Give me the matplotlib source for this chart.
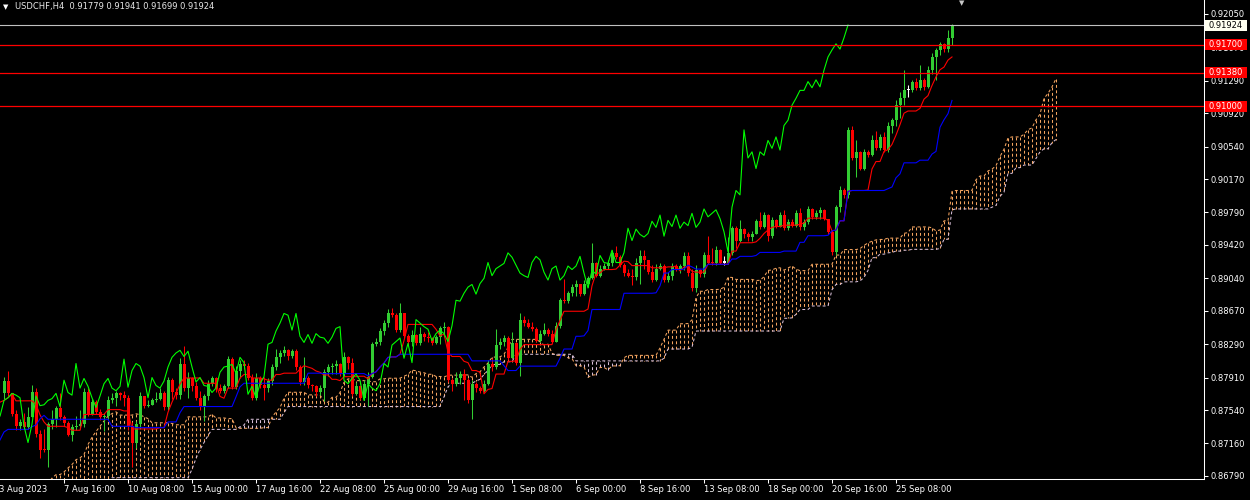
import numpy as np
import pandas as pd
import matplotlib.pyplot as plt
from matplotlib.patches import Rectangle
from matplotlib.transforms import blended_transform_factory

plt.rcParams['font.family'] = ['DejaVu Sans']

symbol = 'USDCHF,H4'
first_open = 0.8773

# bars left of the visible window (only high/low are needed, for the ichimoku warm-up;
# estimated from the lower-left cloud and the first kijun level)
hist_high = [
    0.8640, 0.8625, 0.8610, 0.8600, 0.8598, 0.8615, 0.8635, 0.8655, 0.8668, 0.8685,
    0.8700, 0.8712, 0.8718, 0.8715, 0.8705, 0.8700, 0.8698, 0.8706, 0.8714, 0.8722,
    0.8730, 0.8742, 0.8750, 0.8746, 0.8756, 0.8762, 0.8768, 0.8772, 0.8770, 0.8776,
    0.8784, 0.8788, 0.8782, 0.8786, 0.8784,
]
hist_low = [
    0.8610, 0.8595, 0.8580, 0.8566, 0.8556, 0.8575, 0.8600, 0.8620, 0.8636, 0.8652,
    0.8668, 0.8680, 0.8684, 0.8678, 0.8670, 0.8668, 0.8666, 0.8672, 0.8676, 0.8690,
    0.8698, 0.8706, 0.8718, 0.8716, 0.8722, 0.8730, 0.8740, 0.8742, 0.8738, 0.8746,
    0.8750, 0.8756, 0.8752, 0.8758, 0.8762,
]

close = [
    0.8787, 0.8773, 0.8750, 0.8736, 0.8740, 0.8735, 0.8746, 0.8775, 0.8727, 0.8709,
    0.8708, 0.8738, 0.8744, 0.8756, 0.8746, 0.8739, 0.8726, 0.8735, 0.8736, 0.8738,
    0.8775, 0.8750, 0.8763, 0.8752, 0.8746, 0.8747, 0.8765, 0.8768, 0.8773, 0.8771,
    0.8768, 0.8736, 0.8717, 0.8738, 0.8770, 0.8759, 0.8760, 0.8765, 0.8767, 0.8773,
    0.8758, 0.8788, 0.8774, 0.8771, 0.8807, 0.8779, 0.8790, 0.8781, 0.8768, 0.8757,
    0.8770, 0.8784, 0.8790, 0.8779, 0.8776, 0.8781, 0.8812, 0.8780, 0.8799, 0.8807,
    0.8804, 0.8791, 0.8768, 0.8791, 0.8782, 0.8779, 0.8787, 0.8803, 0.8814, 0.8819,
    0.8822, 0.8815, 0.8821, 0.8803, 0.8786, 0.8791, 0.8782, 0.8781, 0.8774, 0.8779,
    0.8797, 0.8803, 0.8804, 0.8806, 0.8796, 0.8814, 0.8808, 0.8772, 0.8781, 0.8768,
    0.8784, 0.8792, 0.8829, 0.8831, 0.8844, 0.8853, 0.8864, 0.8862, 0.8845, 0.8864,
    0.8838, 0.8831, 0.8840, 0.8830, 0.8841, 0.8837, 0.8836, 0.8830, 0.8837, 0.8847,
    0.8849, 0.8788, 0.8784, 0.8790, 0.8795, 0.8788, 0.8765, 0.8784, 0.8779, 0.8776,
    0.8784, 0.8807, 0.8803, 0.8828, 0.8832, 0.8836, 0.8813, 0.8830, 0.8808, 0.8857,
    0.8853, 0.8849, 0.8846, 0.8833, 0.8841, 0.8845, 0.8841, 0.8832, 0.8850, 0.8879,
    0.8878, 0.8887, 0.8894, 0.8897, 0.8886, 0.8898, 0.8904, 0.8922, 0.8907, 0.8915,
    0.8918, 0.8921, 0.8933, 0.8928, 0.8919, 0.8910, 0.8907, 0.8905, 0.8922, 0.8929,
    0.8925, 0.8911, 0.8902, 0.8915, 0.8918, 0.8902, 0.8907, 0.8918, 0.8914, 0.8918,
    0.8929, 0.8910, 0.8893, 0.8913, 0.8909, 0.8930, 0.8922, 0.8921, 0.8936, 0.8922,
    0.8922, 0.8933, 0.8961, 0.8947, 0.8960, 0.8954, 0.8951, 0.8955, 0.8969, 0.8962,
    0.8976, 0.8952, 0.8970, 0.8963, 0.8976, 0.8961, 0.8968, 0.8964, 0.8978, 0.8962,
    0.8968, 0.8983, 0.8974, 0.8978, 0.8982, 0.8972, 0.8957, 0.8934, 0.8985, 0.9004,
    0.8999, 0.9073, 0.9041, 0.9048, 0.9029, 0.9048, 0.9044, 0.9061, 0.9052, 0.9065,
    0.9050, 0.9078, 0.9084, 0.9101, 0.9109, 0.9118, 0.9118, 0.9128, 0.9121, 0.9130,
    0.9122, 0.9141, 0.9156, 0.9164, 0.9171, 0.9165, 0.91779, 0.91924,
]

high = [
    0.8792, 0.8798, 0.8773, 0.8754, 0.8744, 0.8751, 0.8757, 0.8782, 0.8779, 0.8731,
    0.8733, 0.8740, 0.8754, 0.8759, 0.8773, 0.8748, 0.8741, 0.8738, 0.8747, 0.8754,
    0.8779, 0.8779, 0.8767, 0.8765, 0.8755, 0.8751, 0.8770, 0.8773, 0.8776, 0.8775,
    0.8776, 0.8771, 0.8740, 0.8742, 0.8774, 0.8770, 0.8766, 0.8768, 0.8774, 0.8779,
    0.8776, 0.8792, 0.8790, 0.8779, 0.8813, 0.8827, 0.8797, 0.8792, 0.8786, 0.8776,
    0.8772, 0.8788, 0.8793, 0.8792, 0.8784, 0.8784, 0.8816, 0.8814, 0.8804, 0.8811,
    0.8811, 0.8808, 0.8795, 0.8796, 0.8793, 0.8792, 0.8790, 0.8807, 0.8824, 0.8822,
    0.8827, 0.8824, 0.8823, 0.8824, 0.8805, 0.8814, 0.8793, 0.8784, 0.8783, 0.8783,
    0.8801, 0.8806, 0.8808, 0.8811, 0.8808, 0.8820, 0.8815, 0.8813, 0.8786, 0.8782,
    0.8788, 0.8797, 0.8832, 0.8836, 0.8847, 0.8856, 0.8869, 0.8870, 0.8864, 0.8876,
    0.8865, 0.8841, 0.8845, 0.8841, 0.8849, 0.8843, 0.8843, 0.8837, 0.8839, 0.8850,
    0.8854, 0.8850, 0.8791, 0.8797, 0.8799, 0.8801, 0.8791, 0.8788, 0.8786, 0.8781,
    0.8788, 0.8811, 0.8813, 0.8846, 0.8836, 0.8839, 0.8838, 0.8843, 0.8832, 0.8864,
    0.8861, 0.8858, 0.8854, 0.8849, 0.8845, 0.8853, 0.8847, 0.8845, 0.8854, 0.8882,
    0.8903, 0.8890, 0.8898, 0.8902, 0.8898, 0.8902, 0.8907, 0.8944, 0.8923, 0.8919,
    0.8921, 0.8925, 0.8936, 0.8941, 0.8931, 0.8921, 0.8915, 0.8915, 0.8927, 0.8936,
    0.8936, 0.8925, 0.8919, 0.8920, 0.8922, 0.8920, 0.8911, 0.8922, 0.8920, 0.8920,
    0.8934, 0.8934, 0.8915, 0.8919, 0.8915, 0.8934, 0.8952, 0.8939, 0.8941, 0.8937,
    0.8929, 0.8951, 0.8964, 0.8964, 0.8970, 0.8961, 0.8957, 0.8958, 0.8972, 0.8979,
    0.8979, 0.8977, 0.8974, 0.8971, 0.8979, 0.8982, 0.8972, 0.8971, 0.8982, 0.8984,
    0.8972, 0.8986, 0.8984, 0.8982, 0.8985, 0.8983, 0.8972, 0.8959, 0.8988, 0.9009,
    0.9007, 0.9076, 0.9078, 0.9061, 0.9049, 0.9051, 0.9050, 0.9067, 0.9072, 0.9068,
    0.9071, 0.9082, 0.9086, 0.9107, 0.9116, 0.9141, 0.9124, 0.9130, 0.9132, 0.9147,
    0.9132, 0.9146, 0.9161, 0.9166, 0.9173, 0.9172, 0.9187, 0.91941,
]

low = [
    0.8767, 0.8770, 0.8747, 0.8731, 0.8731, 0.8733, 0.8732, 0.8746, 0.8723, 0.8699,
    0.8706, 0.8689, 0.8733, 0.8735, 0.8743, 0.8736, 0.8724, 0.8719, 0.8731, 0.8733,
    0.8735, 0.8747, 0.8748, 0.8749, 0.8743, 0.8730, 0.8744, 0.8762, 0.8759, 0.8765,
    0.8759, 0.8731, 0.8689, 0.8711, 0.8734, 0.8756, 0.8758, 0.8760, 0.8763, 0.8765,
    0.8754, 0.8754, 0.8767, 0.8767, 0.8767, 0.8776, 0.8768, 0.8776, 0.8765, 0.8754,
    0.8742, 0.8765, 0.8781, 0.8774, 0.8773, 0.8773, 0.8779, 0.8778, 0.8778, 0.8791,
    0.8801, 0.8788, 0.8765, 0.8765, 0.8779, 0.8765, 0.8774, 0.8783, 0.8800, 0.8808,
    0.8815, 0.8811, 0.8813, 0.8800, 0.8782, 0.8783, 0.8779, 0.8776, 0.8770, 0.8771,
    0.8764, 0.8793, 0.8795, 0.8795, 0.8793, 0.8793, 0.8801, 0.8770, 0.8771, 0.8765,
    0.8765, 0.8759, 0.8790, 0.8827, 0.8828, 0.8839, 0.8849, 0.8860, 0.8843, 0.8843,
    0.8836, 0.8828, 0.8827, 0.8828, 0.8828, 0.8833, 0.8831, 0.8828, 0.8829, 0.8829,
    0.8838, 0.8786, 0.8776, 0.8781, 0.8784, 0.8765, 0.8762, 0.8744, 0.8774, 0.8773,
    0.8774, 0.8782, 0.8799, 0.8801, 0.8824, 0.8827, 0.8811, 0.8813, 0.8805, 0.8793,
    0.8850, 0.8847, 0.8844, 0.8831, 0.8831, 0.8839, 0.8838, 0.8830, 0.8831, 0.8847,
    0.8876, 0.8876, 0.8884, 0.8884, 0.8884, 0.8885, 0.8894, 0.8903, 0.8905, 0.8905,
    0.8913, 0.8915, 0.8918, 0.8926, 0.8917, 0.8907, 0.8905, 0.8896, 0.8902, 0.8898,
    0.8915, 0.8909, 0.8900, 0.8901, 0.8913, 0.8900, 0.8900, 0.8902, 0.8912, 0.8910,
    0.8913, 0.8907, 0.8890, 0.8888, 0.8906, 0.8906, 0.8920, 0.8919, 0.8919, 0.8920,
    0.8919, 0.8920, 0.8931, 0.8939, 0.8945, 0.8950, 0.8947, 0.8947, 0.8954, 0.8960,
    0.8961, 0.8947, 0.8950, 0.8961, 0.8962, 0.8959, 0.8959, 0.8962, 0.8963, 0.8959,
    0.8959, 0.8966, 0.8971, 0.8971, 0.8972, 0.8970, 0.8954, 0.8930, 0.8931, 0.8979,
    0.8996, 0.8996, 0.9039, 0.9019, 0.9027, 0.9027, 0.9042, 0.9043, 0.9050, 0.9050,
    0.9048, 0.9048, 0.9069, 0.9077, 0.9086, 0.9101, 0.9110, 0.9116, 0.9118, 0.9118,
    0.9118, 0.9121, 0.9137, 0.9130, 0.9158, 0.9162, 0.9162, 0.91699,
]

first_label = '3 Aug 2023'
date_labels = ['7 Aug 16:00', '10 Aug 08:00', '15 Aug 00:00', '17 Aug 16:00',
               '22 Aug 08:00', '25 Aug 00:00', '29 Aug 16:00', '1 Sep 08:00',
               '6 Sep 00:00', '8 Sep 16:00', '13 Sep 08:00', '18 Sep 00:00',
               '20 Sep 16:00', '25 Sep 08:00']
label_bars = [15, 31, 47, 63, 79, 95, 111, 127, 143, 159, 175, 191, 207, 223]

price_ticks = [0.92050, 0.91670, 0.91290, 0.90920, 0.90540, 0.90170, 0.89790, 0.89420,
               0.89040, 0.88670, 0.88290, 0.87910, 0.87540, 0.87160, 0.86790]
level_lines = [0.91700, 0.91380, 0.91000]
bid_price = 0.91924

UP = '#32cd32'
DOWN = '#ff0000'
SANDY = '#f4a460'
THISTLE = '#d8bfd8'


def ichimoku(hi, lo, tenkan_n=9, kijun_n=26, senkou_n=52):
    hi = pd.Series(hi)
    lo = pd.Series(lo)

    def mid(n):
        return (hi.rolling(n, min_periods=1).max() + lo.rolling(n, min_periods=1).min()) / 2

    tenkan = mid(tenkan_n)
    kijun = mid(kijun_n)
    span_a = (tenkan + kijun) / 2
    span_b = mid(senkou_n)
    return tenkan.values, kijun.values, span_a.values, span_b.values


c = np.array(close)
h = np.array(high)
l = np.array(low)
o = np.concatenate([[first_open], c[:-1]])
n = len(c)
idx = np.arange(n)
shift = 26

# indicator input includes the warm-up bars before the first visible bar
n_hist = len(hist_high)
all_idx = np.arange(-n_hist, n)
tenkan, kijun, span_a, span_b = ichimoku(np.concatenate([hist_high, h]),
                                         np.concatenate([hist_low, l]))

fig = plt.figure(figsize=(12.5, 5), dpi=100, facecolor='black')
ax = fig.add_axes([0, 21 / 500, 1204 / 1250, 479 / 500])
ax.set_facecolor('black')
ax.set_xlim(-1, 300)
ax.set_ylim(0.86755, 0.92209)

# kumo: dotted histogram between the two senkou spans
dots = (0, (2.8, 2.4))
cx = all_idx + shift
cloud_cols = np.where(span_a >= span_b, SANDY, THISTLE)
ax.vlines(cx, span_a, span_b, colors=cloud_cols, linestyles=[dots], lw=0.75, zorder=1)
ax.plot(cx, span_a, color=SANDY, lw=0.75, ls=dots, zorder=1)
ax.plot(cx, span_b, color=THISTLE, lw=0.75, ls=dots, zorder=1)

# candles
doji = np.isclose(c, o, atol=1e-7)
cols = np.where(doji, 'white', np.where(c > o, UP, DOWN))
ax.vlines(idx, l, h, colors=cols, lw=0.75, zorder=3)
body_lo = np.minimum(o, c)
body_h = np.maximum(np.abs(c - o), 0.00012)
ax.bar(idx, body_h, bottom=body_lo, width=0.75, color=cols, linewidth=0, zorder=3)

# tenkan, kijun, chikou
ax.plot(all_idx, tenkan, color='#ff0000', lw=0.8, zorder=4)
ax.plot(all_idx, kijun, color='#0000ff', lw=0.8, zorder=4)
ax.plot(idx - shift, c, color='#00ff00', lw=0.8, zorder=4)

# horizontal levels
ax.axhline(bid_price, color='#c0c0c0', lw=0.8, zorder=5)
for p in level_lines:
    ax.axhline(p, color='#ff0000', lw=0.9, zorder=5)

# axes styling
for side in ['top', 'left']:
    ax.spines[side].set_visible(False)
for side in ['right', 'bottom']:
    ax.spines[side].set_color('white')
    ax.spines[side].set_linewidth(0.75)

ax.yaxis.tick_right()
ax.set_yticks(price_ticks)
ax.set_yticklabels([f'{p:.5f}' for p in price_ticks])
ax.tick_params(axis='y', colors='white', labelsize=6, length=3, width=0.75, pad=1.5)

ax.set_xticks(label_bars)
ax.set_xticklabels(date_labels, ha='left')
ax.tick_params(axis='x', colors='white', labelsize=6, length=3, width=0.75, pad=1.5)
fig.text(-1 / 1250, (500 - 485.5) / 500, first_label, color='white', fontsize=6, va='top', ha='left')

# price labels on the right scale
trans = blended_transform_factory(fig.transFigure, ax.transData)
box_h = 11 * (0.92209 - 0.86755) / 479
for p in level_lines:
    fig.add_artist(Rectangle((1205 / 1250, p - box_h / 2), 42 / 1250, box_h, transform=trans,
                             facecolor='#ff0000', edgecolor='none', zorder=6))
    fig.text(1226 / 1250, p, f'{p:.5f}', transform=trans, color='white', fontsize=6,
             ha='center', va='center', zorder=7)
fig.add_artist(Rectangle((1205 / 1250, bid_price - box_h / 2), 42 / 1250, box_h, transform=trans,
                         facecolor='#fffff0', edgecolor='none', zorder=6))
fig.text(1226 / 1250, bid_price, f'{bid_price:.5f}', transform=trans, color='black', fontsize=6,
         ha='center', va='center', zorder=7)

# header
fig.text(3 / 1250, 1 - 7 / 500, '\u25bc', color='white', fontsize=5, va='center', ha='left')
fig.text(15 / 1250, 1 - 7 / 500,
         f'{symbol}  {o[-1]:.5f} {h[-1]:.5f} {l[-1]:.5f} {c[-1]:.5f}',
         color='#e8e8e8', fontsize=6, va='center', ha='left')
fig.text(962 / 1250, 1 - 3 / 500, '\u25bc', color='#c8c8c8', fontsize=5, va='center', ha='center')

fig.savefig('out.png', dpi=100, facecolor='black')
